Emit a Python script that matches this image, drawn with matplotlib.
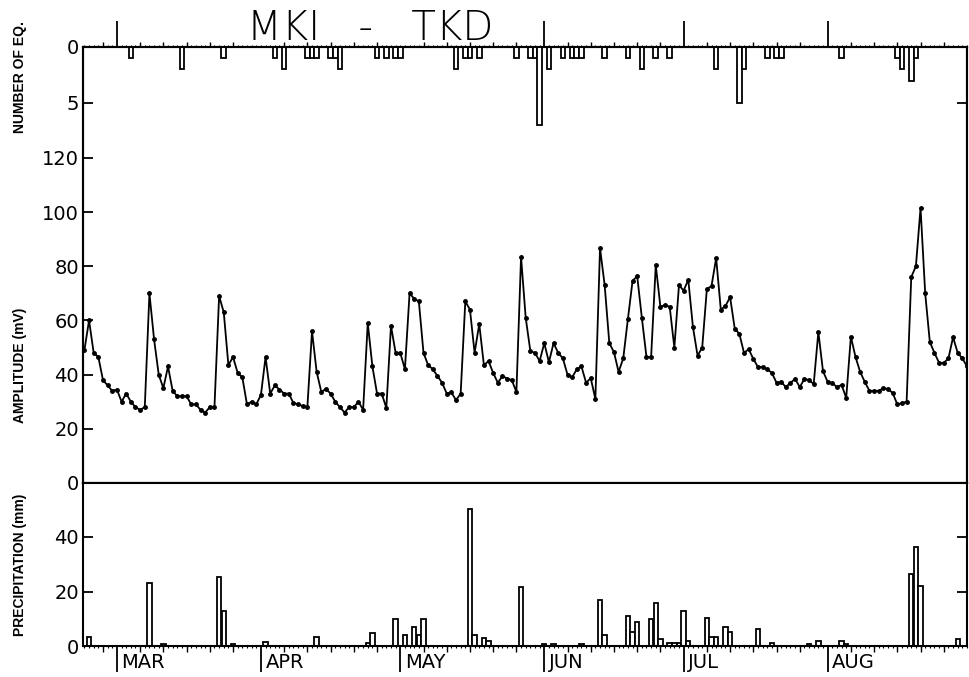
import numpy as np
import matplotlib.pyplot as plt
import matplotlib.transforms as mtransforms

# day 0 = 1 March; amplitude is one value per day starting 22 Feb (day -7)
amp_start = -7
amplitude = [
    49, 60, 48, 46.5, 38, 36, 34, 34.5, 30, 33, 30, 28, 27, 28, 70, 53, 40, 35, 43, 34,
    32, 32, 32, 29, 29, 27, 26, 28, 28, 69, 63, 43.5, 46.5, 40.6, 39, 29, 30, 29, 32.5, 46.5,
    33, 36, 34.5, 33, 33, 29.5, 29, 28.4, 28, 56, 41, 33.6, 34.7, 33, 30, 28, 26, 28, 28, 30,
    27, 59, 43, 33, 33, 27.7, 58, 48, 48, 42, 70, 68, 67, 48, 43.5, 42, 39.5, 37, 33, 33.4,
    30.6, 33, 67, 64, 48, 58.7, 43.5, 45, 40.6, 37, 39.5, 38.5, 38, 33.6, 83.4, 61, 48.7, 48, 45, 51.6,
    44.6, 51.6, 48, 46, 40, 39, 42, 43, 37, 38.7, 31, 86.7, 73, 51.6, 48.3, 41, 46, 60.5, 74.5, 76.4,
    61, 46.5, 46.5, 80.4, 65, 65.7, 65, 50, 73, 71, 75, 57.6, 47, 50, 71.6, 72.7, 83, 64, 65.3, 68.6,
    57, 55, 48, 49.4, 45.8, 42.8, 42.8, 42, 40.6, 37, 37.3, 35.4, 37, 38.4, 35.4, 38.4, 38, 36.5, 55.7, 41.3,
    37.3, 36.9, 35.4, 36.2, 31.4, 54, 46.5, 41, 37.3, 34, 34, 34, 35, 34.7, 33.2, 29, 29.5, 30, 76, 80,
    101.5, 70, 52, 48, 44.3, 44.3, 46, 53.8, 48, 46, 43,
]

rain_day = [-6, 7, 10, 22, 23, 25, 32, 43, 54, 55, 60, 62, 64, 65, 66, 76, 77, 79, 80, 87,
            92, 94, 100, 104, 105, 110, 111, 112, 115, 116, 117, 119, 120, 121, 122, 123,
            127, 128, 129, 131, 132, 138, 141, 149, 151, 156, 157, 171, 172, 173, 181]
rain_mm = [3.4, 23, 0.7, 25.4, 12.8, 0.6, 1.5, 3.2, 1, 4.8, 10, 4, 6.8, 4, 10, 50.2, 4, 3, 2, 21.7,
           0.8, 0.8, 0.8, 17, 4, 11, 5, 8.8, 10, 15.7, 2.7, 1, 1, 1, 12.8, 1.7,
           10.3, 3.3, 3.3, 7, 5, 6.1, 1, 0.8, 2, 1.7, 0.8, 26.4, 36.4, 22, 2.4]

eq_day = [3, 14, 23, 34, 36, 41, 42, 43, 46, 47, 48, 56, 58, 60, 61, 73, 75, 76, 78, 86,
          89, 90, 91, 93, 96, 98, 99, 100, 105, 110, 113, 116, 119, 129, 134, 135, 140, 142,
          143, 156, 168, 169, 171, 172]
eq_num = [1, 2, 1, 1, 2, 1, 1, 1, 1, 1, 2, 1, 1, 1, 1, 2, 1, 1, 1, 1,
          1, 1, 7, 2, 1, 1, 1, 1, 1, 1, 2, 1, 1, 2, 5, 2, 1, 1,
          1, 1, 1, 2, 3, 1]

month_names = ['MAR', 'APR', 'MAY', 'JUN', 'JUL', 'AUG']
month_start = [0, 31, 61, 92, 122, 153]

days = np.arange(amp_start, amp_start + len(amplitude))
daily = np.arange(-7, 184)
five_day = [-3] + [m + k for m in month_start for k in (5, 10, 15, 20, 25)]
# APR / MAY marks on the top edge sit under the title, so they are left out there
top_months = [m for m in month_start if m not in (31, 61)]

W, H = 969, 677
fig = plt.figure(figsize=(W / 100, H / 100), dpi=100)


def box(l, t, r, b):
    return [l / W, 1 - b / H, (r - l) / W, (b - t) / H]


xlim = (-7.3, 183.0)
lw = 1.5

# upper panel: amplitude, with earthquake counts hanging from the top
ax = fig.add_axes(box(83, 47, 967, 483))
ax.plot(days, amplitude, color='black', lw=1.3, marker='o', ms=2.5)
ax.set_xlim(*xlim)
ax.set_ylim(0, 436 / 2.71)
ax.set_yticks([0, 20, 40, 60, 80, 100, 120])
ax.tick_params(axis='y', direction='in', length=7, width=1.3, left=True, right=True,
               labelsize=14, pad=3)
ax.set_xticks(top_months)
ax.set_xticks(daily, minor=True)
ax.tick_params(axis='x', which='major', direction='out', length=19, width=1.3,
               top=True, bottom=False, labeltop=False, labelbottom=False)
ax.tick_params(axis='x', which='minor', direction='out', length=1.5, width=0.8,
               top=True, bottom=False)
sec = ax.secondary_xaxis('top')
sec.set_xticks(five_day)
sec.tick_params(direction='out', length=3.5, width=1, labeltop=False)
sec.spines['top'].set_visible(False)

ax_eq = ax.twinx()
ax_eq.bar(eq_day, eq_num, width=1.0, facecolor='white', edgecolor='black', linewidth=1.3)
ax_eq.set_xlim(*xlim)
ax_eq.set_ylim(436 / 11.2, 0)
ax_eq.set_yticks([0, 5])
ax_eq.tick_params(axis='y', direction='in', length=7, width=1.3, left=True, right=True,
                  labelleft=True, labelright=False, labelsize=14, pad=3)

# lower panel: precipitation
ax_rain = fig.add_axes(box(83, 483, 967, 646))
ax_rain.bar(rain_day, rain_mm, width=0.95, facecolor='white', edgecolor='black', linewidth=1.3)
ax_rain.set_xlim(*xlim)
ax_rain.set_ylim(0, 163 / 2.725)
ax_rain.set_yticks([0, 20, 40])
ax_rain.tick_params(axis='y', direction='in', length=7, width=1.3, left=True, right=True,
                    labelsize=14, pad=3)
ax_rain.set_xticks(month_start)
ax_rain.set_xticks(daily, minor=True)
ax_rain.set_xticklabels([])
ax_rain.tick_params(axis='x', which='major', direction='out', length=19, width=1.3,
                    top=False, bottom=True)
ax_rain.tick_params(axis='x', which='minor', direction='out', length=1.5, width=0.8,
                    top=False, bottom=True)
sec2 = ax_rain.secondary_xaxis('bottom')
sec2.set_xticks(five_day)
sec2.tick_params(direction='out', length=4, width=1, labelbottom=False)
sec2.spines['bottom'].set_visible(False)

trans = mtransforms.blended_transform_factory(ax_rain.transData, ax_rain.transAxes)
for name, m in zip(month_names, month_start):
    ax_rain.text(m + 1.0, -0.1, name, transform=trans, ha='left', va='center', fontsize=14)

for a in (ax, ax_eq, ax_rain):
    for s in a.spines.values():
        s.set_linewidth(lw)

fig.text(370 / W, 1 - 29 / H, 'MKI   -   TKD', ha='center', va='center',
         fontsize=29, fontweight='light')

lab = dict(rotation=90, ha='center', va='center', fontsize=10, fontweight='bold',
           family='Liberation Sans')
fig.text(20 / W, 1 - 77 / H, 'NUMBER OF EQ.', **lab)
fig.text(20 / W, 1 - 365 / H, 'AMPLITUDE (mV)', **lab)
fig.text(20 / W, 1 - 565 / H, 'PRECIPITATION (mm)', **lab)

fig.savefig('out.png', dpi=100)
